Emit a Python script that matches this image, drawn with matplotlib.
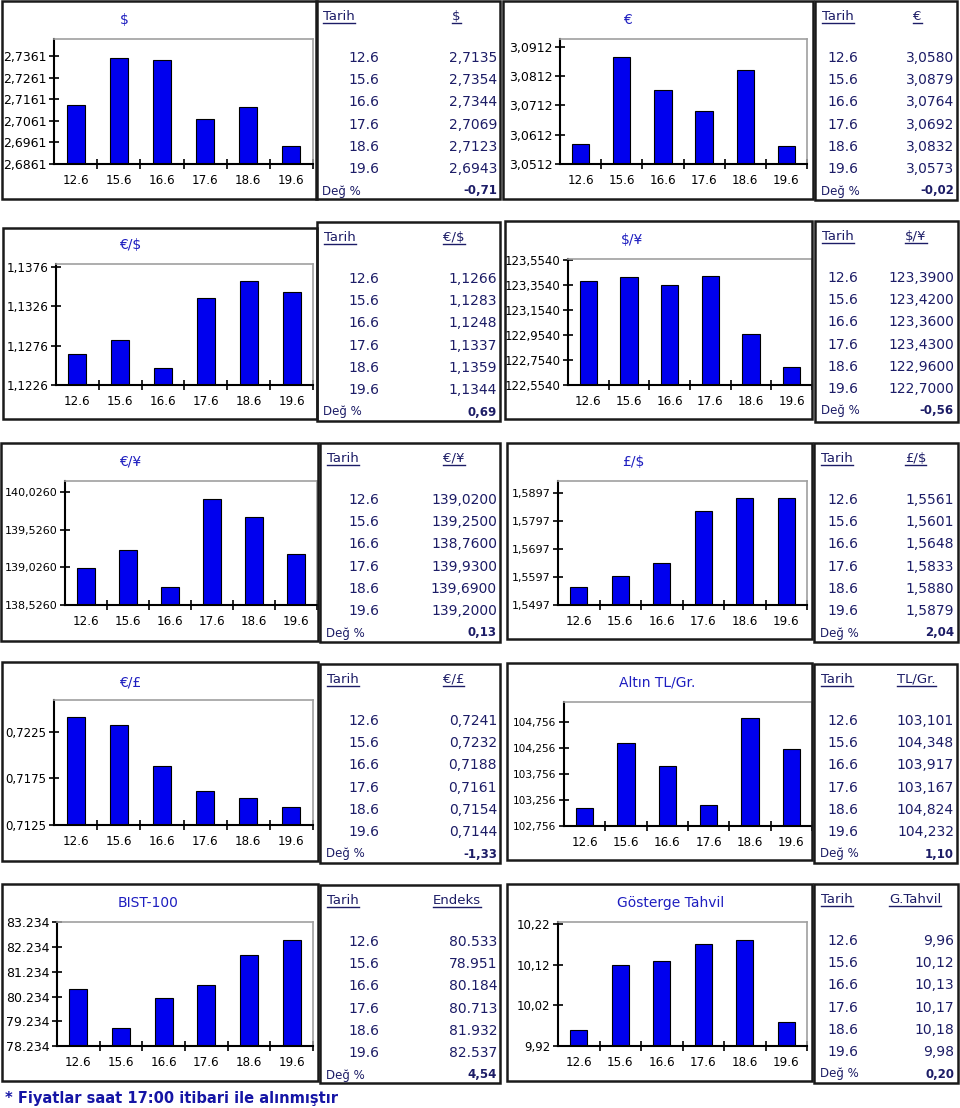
import matplotlib
matplotlib.use('Agg')
import matplotlib.pyplot as plt
from matplotlib.patches import Rectangle
from matplotlib.lines import Line2D

W, H = 960, 1108

dates = ['12.6', '15.6', '16.6', '17.6', '18.6', '19.6']
usd = [2.7135, 2.7354, 2.7344, 2.7069, 2.7123, 2.6943]
eur = [3.0580, 3.0879, 3.0764, 3.0692, 3.0832, 3.0573]
eur_usd = [1.1266, 1.1283, 1.1248, 1.1337, 1.1359, 1.1344]
usd_jpy = [123.39, 123.42, 123.36, 123.43, 122.96, 122.70]
eur_jpy = [139.02, 139.25, 138.76, 139.93, 139.69, 139.20]
gbp_usd = [1.5561, 1.5601, 1.5648, 1.5833, 1.5880, 1.5879]
eur_gbp = [0.7241, 0.7232, 0.7188, 0.7161, 0.7154, 0.7144]
gold = [103.101, 104.348, 103.917, 103.167, 104.824, 104.232]
bist = [80533, 78951, 80184, 80713, 81932, 82537]
bond = [9.96, 10.12, 10.13, 10.17, 10.18, 9.98]
change_pct = [-0.71, -0.02, 0.69, -0.56, 0.13, 2.04, -1.33, 1.10, 4.54, 0.20]
chart_titles = ['$', '€', '€/$', '$/¥', '€/¥', '£/$', '€/£', 'Altın TL/Gr.',
                'BIST-100', 'Gösterge Tahvil']
table_heads = ['$', '€', '€/$', '$/¥', '€/¥', '£/$', '€/£', 'TL/Gr.',
               'Endeks', 'G.Tahvil']
series = [usd, eur, eur_usd, usd_jpy, eur_jpy, gbp_usd, eur_gbp, gold, bist, bond]
decimals = [4, 4, 4, 4, 4, 4, 4, 3, 0, 2]
# y axis: min, max, step
yaxes = [(2.6861, 2.7440, 0.01), (3.0512, 3.0939, 0.01), (1.1226, 1.1380, 0.005),
         (122.554, 123.565, 0.2), (138.526, 140.172, 0.5), (1.5497, 1.5940, 0.01),
         (0.7125, 0.7259, 0.005), (102.756, 105.14, 0.5), (78234, 83250, 1000),
         (9.92, 10.225, 0.1)]
ytick_size = [9, 9, 8.6, 8.5, 8, 8, 8.5, 7.6, 9, 8.5]

# pixel layout: chart box, plot area (l, t, r, b), title pos, table box, header x
layout = [
    ((2, 1, 317, 199), (54, 39, 313, 164), (124, 20), (316, 1, 500, 199), 452),
    ((503, 1, 813, 199), (560, 39, 807, 164), (627, 20), (815, 1, 957, 200), 913),
    ((3, 228, 317, 419), (56, 264, 313, 385), (130, 245), (317, 222, 500, 421), 443),
    ((505, 221, 812, 419), (568, 259, 812, 385), (632, 240), (815, 221, 958, 422), 905),
    ((1, 443, 318, 641), (65, 481, 317, 605), (130, 462), (320, 443, 500, 642), 443),
    ((507, 443, 812, 639), (558, 481, 807, 605), (633, 462), (814, 443, 958, 642), 905),
    ((2, 662, 318, 861), (54, 700, 313, 825), (130, 682), (320, 664, 500, 863), 443),
    ((507, 663, 812, 860), (564, 702, 812, 826), (657, 682), (814, 664, 957, 863), 897),
    ((2, 884, 318, 1081), (57, 922, 313, 1046), (148, 903), (320, 885, 500, 1083), 433),
    ((507, 884, 812, 1081), (558, 922, 807, 1046), (671, 903), (814, 884, 958, 1083), 889),
]

NAVY = '#1c1c66'
TITLE = '#1e1ec0'
BAR = '#0000ee'


def fmt(v, d):
    if d == 0:
        return f'{v:,.0f}'.replace(',', '.')
    return f'{v:.{d}f}'.replace('.', ',')


def fx(x):
    return x / W


def fy(y):
    return 1 - y / H


def box(fig, b):
    x0, y0, x1, y1 = b
    fig.add_artist(Rectangle((fx(x0), fy(y1)), (x1 - x0) / W, (y1 - y0) / H,
                             transform=fig.transFigure, fill=False,
                             edgecolor='#1a1a1a', lw=1.8))


fig = plt.figure(figsize=(W / 100, H / 100), dpi=100)
underlined = []

for i, vals in enumerate(series):
    cbox, (l, t, r, b), (tx, ty), tbox, hx = layout[i]
    box(fig, cbox)
    box(fig, tbox)
    right_col = i % 2 == 1

    ax = fig.add_axes([fx(l), fy(b), (r - l) / W, (b - t) / H])
    ax.bar(range(len(dates)), vals, width=0.42, color=BAR, edgecolor='black', lw=0.8)
    ymin, ymax, step = yaxes[i]
    n = int((ymax - ymin) / step + 1e-6) + 1
    ticks = [ymin + k * step for k in range(n)]
    ax.set_ylim(ymin, ymax)
    ax.set_xlim(-0.5, len(dates) - 0.5)
    ax.set_yticks(ticks)
    ax.set_yticklabels([fmt(v, decimals[i]) for v in ticks])
    ax.set_xticks(range(len(dates)))
    ax.set_xticklabels(dates)
    ax.set_xticks([k + 0.5 for k in range(len(dates))], minor=True)
    ax.tick_params(axis='x', which='major', length=0, pad=7, labelsize=8.6)
    ax.tick_params(axis='x', which='minor', direction='inout', length=7, width=1.2)
    ax.tick_params(axis='y', direction='inout', length=7, width=1.2, pad=2,
                   labelsize=ytick_size[i])
    for s in ('left', 'bottom'):
        ax.spines[s].set_color('black')
        ax.spines[s].set_linewidth(1.5)
    for s in ('top', 'right'):
        ax.spines[s].set_color('#a0a0a0')
        ax.spines[s].set_linewidth(1.2)

    fig.text(fx(tx), fy(ty), chart_titles[i], ha='center', va='center',
             color=TITLE, fontsize=10)

    tx0, ty0, tx1, ty1 = tbox
    date_x = 858 if right_col else 379
    val_x = 954 if right_col else 497
    t1 = fig.text(fx(tx0 + 7), fy(ty0 + 19), 'Tarih', ha='left', va='baseline',
                  color=NAVY, fontsize=9.5)
    t2 = fig.text(fx(hx), fy(ty0 + 19), table_heads[i], ha='left', va='baseline',
                  color=NAVY, fontsize=9.5)
    underlined += [(t1, ty0 + 21.5), (t2, ty0 + 21.5)]
    for k, d in enumerate(dates):
        yy = fy(ty0 + 57 + 22.2 * k)
        fig.text(fx(date_x), yy, d, ha='right', va='center', color=NAVY, fontsize=10)
        fig.text(fx(val_x), yy, fmt(vals[k], decimals[i]), ha='right', va='center',
                 color=NAVY, fontsize=10)
    fig.text(fx(tx0 + 6), fy(ty0 + 190), 'Değ %', ha='left', va='center',
             color=NAVY, fontsize=8.5)
    fig.text(fx(val_x), fy(ty0 + 190), fmt(change_pct[i], 2), ha='right', va='center',
             color=NAVY, fontsize=8.5, fontweight='bold')

fig.text(fx(5), fy(1098), '* Fiyatlar saat 17:00 itibari ile alınmıştır',
         ha='left', va='center', color='#1515a5', fontsize=10.5, fontweight='bold')

fig.canvas.draw()
for txt, uy in underlined:
    bb = txt.get_window_extent()
    fig.add_artist(Line2D([bb.x0 / W, bb.x1 / W], [fy(uy), fy(uy)],
                          transform=fig.transFigure, color=NAVY, lw=1))

fig.savefig('out.png', dpi=100)
